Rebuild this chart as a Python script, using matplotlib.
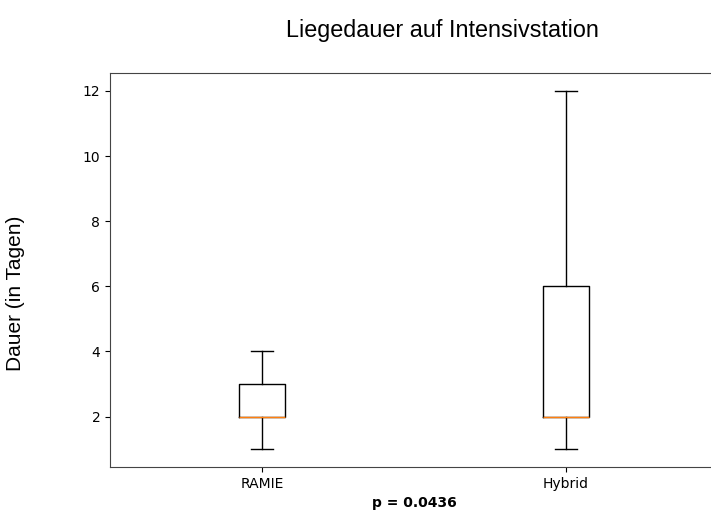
import matplotlib
matplotlib.use("Agg")
import matplotlib.pyplot as plt

# box statistics (days)
groups = ["RAMIE", "Hybrid"]
whislo = [1, 1]
q1 = [2, 2]
med = [2, 2]
q3 = [3, 6]
whishi = [4, 12]
p_text = "p = 0.0436"

stats = []
for i in range(len(groups)):
    stats.append({"label": groups[i], "whislo": whislo[i], "q1": q1[i],
                  "med": med[i], "q3": q3[i], "whishi": whishi[i], "fliers": []})

fig = plt.figure(figsize=(7.11, 5.27), dpi=100)
ax = fig.add_axes([0.1547, 0.1139, 0.8551, 0.7476])
ax.bxp(stats, showfliers=False)
ax.set_yticks([2, 4, 6, 8, 10, 12])
ax.set_xlabel(p_text, fontweight="bold")
# the original figure is cut off on the right, so its right frame line is not seen
ax.spines["right"].set_visible(False)
for s in ax.spines.values():
    s.set_color("#444444")

fig.text(0.622, 0.943, "Liegedauer auf Intensivstation", ha="center", va="center",
         family=["Liberation Sans", "DejaVu Sans"], fontsize=16.8)
fig.text(0.022, 0.444, "Dauer (in Tagen)", ha="center", va="center", rotation=90,
         family=["Liberation Sans", "DejaVu Sans"], fontsize=15)

fig.savefig("out.png", dpi=100)
